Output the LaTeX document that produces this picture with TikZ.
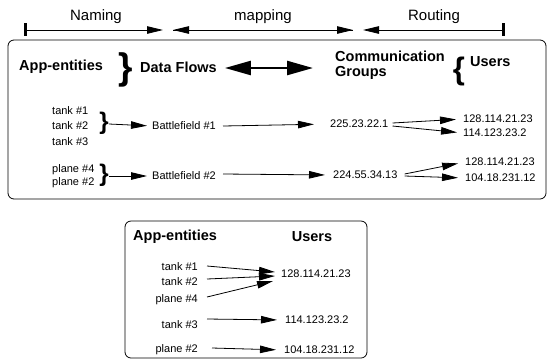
\documentclass[tikz,border=0pt]{standalone}
\usepackage{fontspec}
\setmainfont{Liberation Sans}
\usetikzlibrary{arrows.meta}
\begin{document}
\begin{tikzpicture}[x=1pt,y=-1pt,
  big/.style={font=\fontsize{14.5}{16}\selectfont\bfseries, inner sep=0pt},
  top/.style={font=\fontsize{15}{17}\selectfont, inner sep=0pt},
  sm/.style={font=\fontsize{11}{13}\selectfont, inner sep=0pt},
  brc/.style={font=\fontsize{#1}{#1}\selectfont\bfseries, inner sep=0pt},
  arr/.style={line width=0.8pt, -{Triangle[length=16pt,width=7.5pt]}},
  box/.style={draw, line width=0.8pt, rounded corners=6pt}]
\useasboundingbox (0,0) rectangle (548,360);

% top axis
\coordinate (barL) at (25,30);
\coordinate (barR) at (503,30);
\coordinate (nT) at (163,30);
\coordinate (mL) at (173,30);
\coordinate (mR) at (353,30);
\coordinate (rL) at (363,30);
\draw[line width=3pt] (25,23) -- (25,36);
\draw[line width=3pt] (503,23) -- (503,36);
\draw[arr] (barL) -- (nT);
\draw[arr] (mR) -- (mL);
\draw[arr] (mL) -- (mR);
\draw[arr] (barR) -- (rL);
\node[top] (naming) at (96,17) {Naming};
\node[top] (mapping) at (263,17) {mapping};
\node[top] (routing) at (434,17) {Routing};

% upper box
\node[box, minimum width=538pt, minimum height=159pt, inner sep=0pt] (ubox) at (277,119.5) {};
\node[big, anchor=west] (appe) at (19,67) {App-entities};
\node[brc=37] (hb1) at (126,70) {\}};
\node[big, anchor=west] (df) at (140,67) {Data Flows};
\draw[line width=2.5pt, {Triangle[length=26pt,width=14pt]}-{Triangle[length=26pt,width=14pt]}] (df.east)++(8,1) coordinate (dA) -- (313,68) coordinate (dB);
\node[big, anchor=west, align=left] (cg) at (335,65) {Communication\\[-1pt]Groups};
\node[brc=31] (hb2) at (459,71) {\{};
\node[big, anchor=west] (users) at (470,62) {Users};

% row 1
\node[sm, anchor=west] (t1) at (52,111) {tank \#1};
\node[sm, anchor=west] (t2) at (52,126) {tank \#2};
\node[sm, anchor=west] (t3) at (52,142) {tank \#3};
\node[brc=24] (b1) at (104,123) {\}};
\node[sm, anchor=west] (bf1) at (152,126) {Battlefield \#1};
\draw[arr, shorten >=5pt] (b1.east) ++(0,1) -- (bf1.west);
\node[sm, anchor=west] (g1) at (330,124) {225.23.22.1};
\draw[arr, shorten >=16pt] (bf1.east) ++(7,0) -- (g1.west);
\node[sm, anchor=west] (u11) at (463,119) {128.114.21.23};
\node[sm, anchor=west] (u12) at (463,133) {114.123.23.2};
\draw[arr, shorten >=7pt] (g1.east) ++(4,-1) -- (u11.west);
\draw[arr, shorten >=6pt] (g1.east) ++(4,2) -- (u12.west);

% row 2
\node[sm, anchor=west] (p4) at (52,170) {plane \#4};
\node[sm, anchor=west] (p2) at (52,183) {plane \#2};
\node[brc=24] (b2) at (104,175) {\}};
\node[sm, anchor=west] (bf2) at (152,176) {Battlefield \#2};
\draw[arr, shorten >=5pt] (b2.east) ++(0,1) -- (bf2.west);
\node[sm, anchor=west] (g2) at (333,175) {224.55.34.13};
\draw[arr, shorten >=8pt] (bf2.east) ++(7,-2) -- (g2.west);
\node[sm, anchor=west] (u21) at (465,162) {128.114.21.23};
\node[sm, anchor=west] (u22) at (465,178) {104.18.231.12};
\draw[arr, shorten >=7pt] (g2.east) ++(7,-1) -- (u21.west);
\draw[arr, shorten >=7pt] (g2.east) ++(7,1) -- (u22.west);

% lower box
\node[box, minimum width=242pt, minimum height=137pt, inner sep=0pt] (lbox) at (246,289.5) {};
\node[big, anchor=west] (lappe) at (133,237) {App-entities};
\node[big] (lusers) at (312,237) {Users};
\node[sm, anchor=east] (lt1) at (198,267) {tank \#1};
\node[sm, anchor=east] (lt2) at (198,282) {tank \#2};
\node[sm, anchor=east] (lp4) at (198,300) {plane \#4};
\node[sm, anchor=east] (lt3) at (198,325) {tank \#3};
\node[sm, anchor=east] (lp2) at (198,350) {plane \#2};
\node[sm, anchor=west] (lu1) at (281,274) {128.114.21.23};
\node[sm, anchor=west] (lu2) at (285,320) {114.123.23.2};
\node[sm, anchor=west] (lu3) at (284,350) {104.18.231.12};
\draw[arr] (lt1.east) ++(9,-1) -- (275,272);
\draw[arr] (lt2.east) ++(9,-3) -- (275,276);
\draw[arr] (lp4.east) ++(9,-3) -- (273,281);
\draw[arr, shorten >=8pt] (lt3.east) ++(9,-6) -- (lu2.west);
\draw[arr, shorten >=8pt] (lp2.east) ++(14,-2) -- (lu3.west);
\end{tikzpicture}
\end{document}
